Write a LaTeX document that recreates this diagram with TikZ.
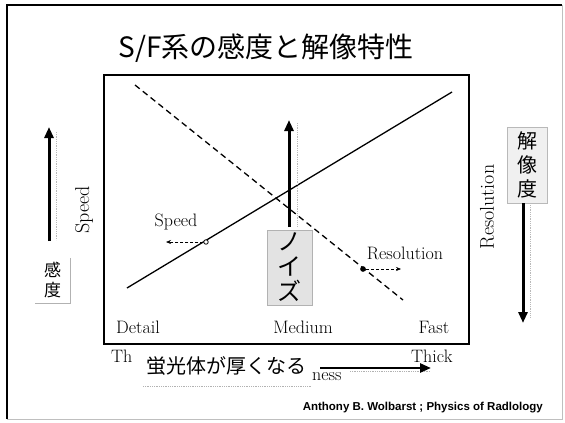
\documentclass[tikz,border=0pt]{standalone}
\usepackage{fontspec}
\newfontfamily\jpfont{Noto Sans CJK JP}
\newfontfamily\citefont{Liberation Sans}
\usetikzlibrary{arrows.meta}

\begin{document}
\begin{tikzpicture}[x=1pt, y=-1pt, >={Triangle[length=11pt,width=9pt]},
    lbl/.style={font=\fontsize{18}{20}\selectfont, inner sep=0pt},
    rotlbl/.style={font=\fontsize{20}{22}\selectfont, inner sep=0pt, rotate=90},
    bigarrow/.style={->, line width=3pt},
    smallarrow/.style={-{Stealth[length=5pt,width=4pt]}, densely dashed, line width=0.6pt},
    shade/.style={gray!55, line width=0.8pt, densely dotted}]
        \colorlet{boxgray}{gray!22}
        \useasboundingbox (0,0) rectangle (565,423);

        % outer frame
        \draw[line width=1.6pt] (7,419) -- (7,5) -- (562,5);
        \draw[gray!50, line width=1pt] (562,5) -- (562,419) -- (7,419);

        \node[font=\jpfont\fontsize{28}{32}\selectfont, inner sep=0pt] (title) at (266,48) {S/F系の感度と解像特性};

        % plot box
        \draw[line width=1.3pt] (104,75) rectangle (469,344);

        \coordinate (spA) at (127,288);
        \coordinate (spB) at (452,92);
        \coordinate (reA) at (135,85);
        \coordinate (reB) at (403,300);
        \draw[line width=1.3pt] (spA) -- (spB);
        \draw[line width=1.3pt, dash pattern=on 6pt off 4pt] (reA) -- (reB);

        % noise
        \node[draw=gray!60, fill=boxgray, minimum width=45pt, minimum height=75pt, inner sep=0pt, align=center, font=\jpfont\fontsize{24}{25}\selectfont] (noise) at (289.5,267.5) {ノ\\イ\\ズ};
        \coordinate (nztop) at (289,120);
        \draw[shade] (297,123) -- (297,227);
        \draw[bigarrow] (289,227) -- (nztop);

        % speed / resolution markers
        \node[circle, draw, fill=white, line width=0.8pt, inner sep=1.6pt] (spdot) at (206,242) {};
        \coordinate (spend) at (166,242);
        \draw[smallarrow] (spdot) -- (spend);
        \node[lbl] (spd) at (176,222) {Speed};

        \node[circle, fill, inner sep=2pt] (redot) at (363,269) {};
        \coordinate (reend) at (401,269);
        \draw[smallarrow] (redot) -- (reend);
        \node[lbl] (res) at (405,253) {Resolution};

        \node[lbl] (detail) at (138,327) {Detail};
        \node[lbl] (medium) at (303,327) {Medium};
        \node[lbl] (fast) at (434,327) {Fast};

        % left axis
        \node[rotlbl] (speedax) at (84,210) {Speed};
        \coordinate (lbot) at (49,241);
        \coordinate (ltop) at (49,127);
        \draw[shade] (56,132) -- (56,240);
        \draw[bigarrow] (lbot) -- (ltop);
        \node[inner sep=0pt, minimum width=35pt, minimum height=45pt, align=center, font=\jpfont\fontsize{17}{20}\selectfont] (kando) at (52.5,280.5) {感\\度};
        \draw[gray!60, line width=1.2pt] (kando.north east) -- (kando.south east) -- (kando.south west);

        % right axis
        \node[rotlbl] (resax) at (487,207) {Resolution};
        \node[draw=gray!55, fill=gray!12, minimum width=40pt, minimum height=76pt, inner sep=0pt, align=center, font=\jpfont\fontsize{20}{24}\selectfont] (kaizo) at (527,165) {解\\像\\度};
        \coordinate (rbot) at (523,323);
        \draw[shade] (530,205) -- (530,318);
        \draw[bigarrow] (kaizo.south -| rbot) -- (rbot);

        % bottom
        \node[lbl, anchor=west] (thin) at (111,356) {Th};
        \node[lbl, anchor=west] (thick) at (411,356) {Thick};
        \node[lbl, anchor=west] (ness) at (312,377) {ness};
        \draw[gray!60, line width=0.8pt, densely dotted] (143,386) -- (312,386);
        \draw[gray!60, line width=0.8pt, densely dotted] (350,371) -- (430,371);
        \node[fill=white, inner sep=1pt, font=\jpfont\fontsize{20}{22}\selectfont] (keiko) at (226,366) {蛍光体が厚くなる};
        \coordinate (barrow) at (431,368);
        \draw[->, line width=2.6pt] (320,368) -- (barrow);

        \node[anchor=east, inner sep=0pt, font=\citefont\bfseries\fontsize{11.5}{13}\selectfont] (cite) at (543,408) {Anthony B. Wolbarst ; Physics of Radlology};
\end{tikzpicture}
\end{document}
